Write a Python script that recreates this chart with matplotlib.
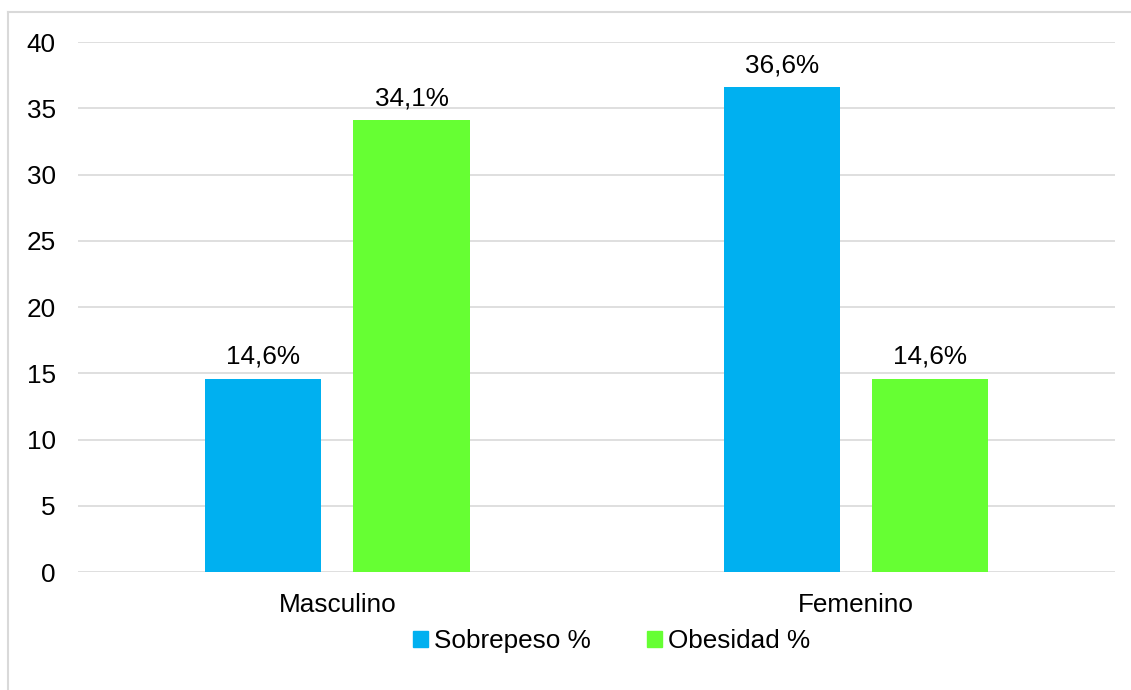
import matplotlib.pyplot as plt
import numpy as np
from matplotlib.lines import Line2D
from matplotlib.patches import Patch

plt.rcParams['font.family'] = ['Liberation Sans', 'DejaVu Sans']

categories = ['Masculino', 'Femenino']
series_names = ['Sobrepeso %', 'Obesidad %']
sobrepeso = [14.6, 36.6]
obesidad = [34.1, 14.6]
sobrepeso_labels = ['14,6%', '36,6%']
obesidad_labels = ['34,1%', '14,6%']

blue = '#00B0F0'
green = '#66FF33'
fs = 18.8

fig = plt.figure(figsize=(11.31, 6.9), dpi=100)
ax = fig.add_axes([0.069, 0.171, 0.917, 0.768])

x = np.arange(len(categories))
w = 0.224
off = 0.143
b1 = ax.bar(x - off, sobrepeso, w, color=blue, zorder=3)
b2 = ax.bar(x + off, obesidad, w, color=green, zorder=3)

for bars, labels in [(b1, sobrepeso_labels), (b2, obesidad_labels)]:
    for rect, lab in zip(bars, labels):
        ax.annotate(lab, (rect.get_x() + rect.get_width() / 2, rect.get_height()),
                    xytext=(0, 7), textcoords='offset points',
                    ha='center', va='bottom', fontsize=fs, color='#000000')

ax.set_xlim(-0.5, 1.5)
ax.set_ylim(0, 40)
ax.set_yticks(range(0, 41, 5))
ax.set_xticks(x)
ax.set_xticklabels(categories)
ax.grid(axis='y', color='#D9D9D9', linewidth=1.2, zorder=0)
ax.set_axisbelow(True)
for s in ['top', 'right', 'left', 'bottom']:
    ax.spines[s].set_visible(False)
ax.tick_params(axis='both', length=0, labelsize=fs, colors='#000000')
ax.tick_params(axis='y', pad=16)
ax.tick_params(axis='x', pad=15)

handles = [Patch(color=blue), Patch(color=green)]
fig.legend(handles, series_names, loc='center', bbox_to_anchor=(0.541, 0.071),
           ncol=2, frameon=False, fontsize=fs, handlelength=0.55, handleheight=0.55,
           handletextpad=0.25, columnspacing=2.15)

# outer chart border (left and top visible)
fig.add_artist(Line2D([8 / 1131, 8 / 1131], [0, 1 - 12 / 690], color='#D9D9D9', lw=1.5,
                      transform=fig.transFigure))
fig.add_artist(Line2D([8 / 1131, 1], [1 - 12 / 690, 1 - 12 / 690], color='#D9D9D9', lw=1.5,
                      transform=fig.transFigure))

fig.savefig('out.png', dpi=100)
